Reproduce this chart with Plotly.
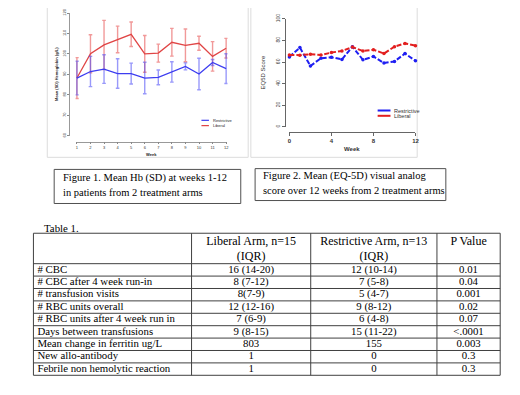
import plotly.graph_objects as go

# The page body adds an 8px margin, so the figure is drawn 8px in from the
# window's top-left corner; all reference pixel positions are shifted by OFF.
OFF = 8
W, H = 512, 387

# ---------------- data ----------------
hb_weeks = [1, 2, 3, 4, 5, 6, 7, 8, 9, 10, 11, 12]
hb_restrictive = [88.2, 91.4, 92.6, 90.4, 90.4, 88.2, 88.5, 91.2, 93.9, 90.2, 95.8, 92.8]
hb_restrictive_sd = [8.2, 7.4, 7.0, 7.2, 5.1, 7.7, 3.6, 5.0, 1.7, 7.7, 1.5, 7.3]
hb_liberal = [88.2, 100.1, 104.4, 107.1, 109.6, 100.0, 100.4, 105.7, 104.2, 105.2, 98.8, 102.8]
hb_liberal_sd = [10.0, 9.3, 12.0, 6.5, 6.0, 9.0, 4.4, 6.8, 8.0, 3.4, 7.2, 4.8]
hb_yticks = [60, 70, 80, 90, 100, 110, 120]

eq_weeks = [0, 1, 2, 3, 4, 5, 6, 7, 8, 9, 10, 11, 12]
eq_restrictive = [64.8, 73.4, 56.4, 63.6, 64.5, 62.5, 74.3, 62.1, 65.2, 59.1, 60.6, 67.9, 61.2]
eq_liberal = [66.6, 66.4, 67.3, 66.6, 68.8, 70.3, 73.9, 70.3, 71.5, 67.9, 74.3, 77.3, 75.2]
eq_xticks = [0, 4, 8, 12]
eq_yticks = [0, 20, 40, 60, 80, 100]

series_names = ["Restrictive", "Liberal"]

caption1 = ["Figure 1. Mean Hb (SD) at weeks 1-12", "in patients from 2 treatment arms"]
caption2 = ["Figure 2. Mean (EQ-5D) visual analog", "score over 12 weeks from 2 treatment arms"]

table_title = "Table 1."
table_columns = ["", "Liberal Arm, n=15<br>(IQR)", "Restrictive Arm, n=13<br>(IQR)", "P Value"]
table_measures = ["# CBC", "# CBC after 4 week run-in", "# transfusion visits",
                  "# RBC units overall", "# RBC units after 4 week run in",
                  "Days between transfusions", "Mean change in ferritin ug/L",
                  "New allo-antibody", "Febrile non hemolytic reaction"]
table_liberal = ["16 (14-20)", "8 (7-12)", "8(7-9)", "12 (12-16)", "7 (6-9)",
                 "9 (8-15)", "803", "1", "1"]
table_restrictive = ["12 (10-14)", "7 (5-8)", "5 (4-7)", "9 (8-12)", "6 (4-8)",
                     "15 (11-22)", "155", "0", "0"]
table_pvalue = ["0.01", "0.04", "0.001", "0.02", "0.07", "<.0001", "0.003", "0.3", "0.3"]

# ---------------- styles / layout constants ----------------
BLUE1, RED1 = "#3d3df0", "#e04545"
BLUE1_ERR, RED1_ERR = "rgba(70,70,245,0.55)", "rgba(230,70,70,0.55)"
BLUE2, RED2 = "#1f1ff2", "#e21f1f"
SANS = "Liberation Sans"
SERIF = "Liberation Serif"
CAP_SIZE = 10.5
BODY_SIZE = 10.8
HEAD_SIZE = 12

def px(x):
    return (x - OFF) / W

def py(y):
    return 1 - (y - OFF) / H

def clamp01(v):
    return min(1.0, max(0.0, v))

TBL_COL_EDGES = [31.7, 191.7, 312.3, 440.0, 504.0]
TBL_TOP = 232.3
TBL_HEAD_H = 31.0
TBL_ROW_H = 12.63

def esc(s):
    return s.replace("<br>", "\x00").replace("<", "&lt;").replace("\x00", "<br>")

fig = go.Figure()

# ---------------- Figure 1 : Hb ----------------
fig.add_trace(go.Scatter(
    x=hb_weeks, y=hb_liberal, mode="lines", name=series_names[1],
    line=dict(color=RED1, width=1.3),
    error_y=dict(type="data", array=hb_liberal_sd, visible=True,
                 color=RED1_ERR, thickness=1.4, width=1.8),
    xaxis="x", yaxis="y", showlegend=False, cliponaxis=False))
fig.add_trace(go.Scatter(
    x=hb_weeks, y=hb_restrictive, mode="lines", name=series_names[0],
    line=dict(color=BLUE1, width=1.3),
    error_y=dict(type="data", array=hb_restrictive_sd, visible=True,
                 color=BLUE1_ERR, thickness=1.4, width=1.8),
    xaxis="x", yaxis="y", showlegend=False, cliponaxis=False))

# ---------------- Figure 2 : EQ5D ----------------
fig.add_trace(go.Scatter(
    x=eq_weeks, y=eq_restrictive, mode="lines+markers", name=series_names[0],
    line=dict(color=BLUE2, width=2, dash="5px,2px"),
    marker=dict(color=BLUE2, size=3.5),
    xaxis="x2", yaxis="y2", showlegend=False, cliponaxis=False))
fig.add_trace(go.Scatter(
    x=eq_weeks, y=eq_liberal, mode="lines+markers", name=series_names[1],
    line=dict(color=RED2, width=2, dash="5px,2px"),
    marker=dict(color=RED2, size=3.5),
    xaxis="x2", yaxis="y2", showlegend=False, cliponaxis=False))

# ---------------- Table (text through overlay pixel axes) ----------------
col_centers = [(TBL_COL_EDGES[i] + TBL_COL_EDGES[i + 1]) / 2 for i in range(4)]
row_centers = [TBL_TOP + TBL_HEAD_H + TBL_ROW_H * (i + 0.5) for i in range(len(table_measures))]
head_center = TBL_TOP + TBL_HEAD_H / 2 + 1.2
head_first_line = TBL_TOP + 9.4

fig.add_trace(go.Scatter(
    x=col_centers[1:3], y=[head_center] * 2, text=[esc(t) for t in table_columns[1:3]],
    mode="text", textposition="middle center",
    textfont=dict(family=SERIF, size=HEAD_SIZE, color="black"),
    xaxis="x3", yaxis="y3", showlegend=False, cliponaxis=False, hoverinfo="skip"))
fig.add_trace(go.Scatter(
    x=[col_centers[3]], y=[head_first_line], text=[esc(table_columns[3])],
    mode="text", textposition="middle center",
    textfont=dict(family=SERIF, size=HEAD_SIZE, color="black"),
    xaxis="x3", yaxis="y3", showlegend=False, cliponaxis=False, hoverinfo="skip"))
fig.add_trace(go.Scatter(
    x=[TBL_COL_EDGES[0] + 4] * len(table_measures), y=row_centers,
    text=[esc(t) for t in table_measures],
    mode="text", textposition="middle right",
    textfont=dict(family=SERIF, size=BODY_SIZE, color="black"),
    xaxis="x3", yaxis="y3", showlegend=False, cliponaxis=False, hoverinfo="skip"))
for ci, col in zip([1, 2, 3], [table_liberal, table_restrictive, table_pvalue]):
    fig.add_trace(go.Scatter(
        x=[col_centers[ci]] * len(col), y=row_centers, text=[esc(t) for t in col],
        mode="text", textposition="middle center",
        textfont=dict(family=SERIF, size=BODY_SIZE, color="black"),
        xaxis="x3", yaxis="y3", showlegend=False, cliponaxis=False, hoverinfo="skip"))

shapes = []
# panels behind the two charts
for (x0, x1) in [(45.7, 249.0), (251.7, 420.0)]:
    shapes.append(dict(type="rect", xref="paper", yref="paper",
                       x0=px(x0), x1=px(x1), y0=py(155.0), y1=py(1.7),
                       line=dict(color="#dcdcdc", width=1), fillcolor="white", layer="below"))
# caption boxes
for (x0, x1, y0, y1) in [(52.7, 241.5, 167.3, 202.0), (256.0, 449.0, 166.5, 199.0)]:
    shapes.append(dict(type="rect", xref="paper", yref="paper",
                       x0=px(x0), x1=px(x1), y0=py(y1), y1=py(y0),
                       line=dict(color="#505050", width=1), fillcolor="rgba(0,0,0,0)", layer="above"))
# legend samples
for (y, c) in [(117.3, BLUE1), (122.7, RED1)]:
    shapes.append(dict(type="line", xref="paper", yref="paper",
                       x0=px(201.7), x1=px(209.3), y0=py(y), y1=py(y),
                       line=dict(color=c, width=1.2)))
for (y, c) in [(107.3, BLUE2), (112.7, RED2)]:
    shapes.append(dict(type="line", xref="paper", yref="paper",
                       x0=px(380.0), x1=px(393.0), y0=py(y), y1=py(y),
                       line=dict(color=c, width=2)))
# table grid
tbl_bottom = TBL_TOP + TBL_HEAD_H + TBL_ROW_H * len(table_measures)
h_lines = [TBL_TOP, TBL_TOP + TBL_HEAD_H] + [TBL_TOP + TBL_HEAD_H + TBL_ROW_H * (i + 1) for i in range(len(table_measures))]
for y in h_lines:
    shapes.append(dict(type="line", xref="paper", yref="paper",
                       x0=px(TBL_COL_EDGES[0]), x1=px(TBL_COL_EDGES[-1]), y0=py(y), y1=py(y),
                       line=dict(color="#404040", width=1)))
for x in TBL_COL_EDGES:
    shapes.append(dict(type="line", xref="paper", yref="paper",
                       x0=px(x), x1=px(x), y0=py(TBL_TOP), y1=py(tbl_bottom),
                       line=dict(color="#404040", width=1)))

annotations = []
def ann(x, y, text, size, family=SANS, color="#222", xanchor="center", textangle=0, bold=False):
    annotations.append(dict(xref="paper", yref="paper", x=px(x), y=py(y),
                            text=("<b>%s</b>" % text) if bold else text, showarrow=False,
                            xanchor=xanchor, yanchor="middle", textangle=textangle,
                            font=dict(family=family, size=size, color=color)))

# chart 1 titles / legend
ann(151.2, 152.3, "Week", 4, bold=True)
ann(55.7, 70.0, "Mean (SD) Hemoglobin (g/L)", 4, textangle=-90, bold=True)
ann(211.7, 117.3, series_names[0], 4, xanchor="left")
ann(211.7, 122.7, series_names[1], 4, xanchor="left")
# chart 2 titles / legend
ann(354.5, 146.7, "Week", 6, bold=True, color="#333")
ann(263.5, 69.0, "EQ5D Score", 6, textangle=-90, color="#333")
ann(395.0, 107.3, series_names[0], 5.5, xanchor="left", color="#333")
ann(395.0, 112.7, series_names[1], 5.5, xanchor="left", color="#333")
# captions
ann(60.0, 175.7, caption1[0], CAP_SIZE, family=SERIF, color="black", xanchor="left")
ann(60.0, 191.0, caption1[1], CAP_SIZE, family=SERIF, color="black", xanchor="left")
ann(261.5, 173.5, caption2[0], CAP_SIZE, family=SERIF, color="black", xanchor="left")
ann(261.5, 189.0, caption2[1], CAP_SIZE, family=SERIF, color="black", xanchor="left")
# table title
ann(40.0, 227.3, table_title, BODY_SIZE, family=SERIF, color="black", xanchor="left")

# x-range padding for chart 1 so edge error bars are not clipped
hb_ppu = (226.7 - 75.7) / (hb_weeks[-1] - hb_weeks[0])
hb_pad = 0.1

fig.update_layout(
    width=W, height=H, margin=dict(l=0, r=0, t=0, b=0),
    paper_bgcolor="white", plot_bgcolor="rgba(0,0,0,0)",
    showlegend=False,
    xaxis=dict(domain=[px(75.7 - hb_pad * hb_ppu), px(226.7 + hb_pad * hb_ppu)],
               range=[hb_weeks[0] - hb_pad, hb_weeks[-1] + hb_pad],
               anchor="free", position=py(139.0),
               tickvals=hb_weeks, ticks="outside", ticklen=2, tickwidth=0.6, tickcolor="#888",
               showline=True, linecolor="#999", linewidth=0.7,
               showgrid=False, zeroline=False,
               tickfont=dict(family=SANS, size=4, color="#333")),
    yaxis=dict(domain=[py(133.0), clamp01(py(7.3))], range=[60, 120],
               anchor="free", position=px(68.0),
               tickvals=hb_yticks, tickangle=-90, ticks="outside", ticklen=2, tickwidth=0.6,
               tickcolor="#888", showline=True, linecolor="#999", linewidth=0.7,
               showgrid=False, zeroline=False,
               tickfont=dict(family=SANS, size=4, color="#333")),
    xaxis2=dict(domain=[px(290.7), px(418.3)], range=[0, 12],
                anchor="free", position=py(129.3),
                tickvals=eq_xticks, ticks="outside", ticklen=3, tickwidth=0.8, tickcolor="#666",
                showline=True, linecolor="#666", linewidth=0.8,
                showgrid=False, zeroline=False,
                tickfont=dict(family=SANS, size=6, color="#333", weight="bold")),
    yaxis2=dict(domain=[py(124.0), py(14.0)], range=[0, 100],
                anchor="free", position=px(286.0),
                tickvals=eq_yticks, tickangle=-90, ticks="outside", ticklen=3, tickwidth=0.8,
                tickcolor="#666", showline=True, linecolor="#666", linewidth=0.8,
                showgrid=False, zeroline=False,
                tickfont=dict(family=SANS, size=5, color="#444")),
    xaxis3=dict(domain=[0, 1], range=[OFF, W + OFF], visible=False, fixedrange=True),
    yaxis3=dict(domain=[0, 1], range=[H + OFF, OFF], visible=False, fixedrange=True),
    shapes=shapes,
    annotations=annotations,
)

fig.write_html("out.html")
